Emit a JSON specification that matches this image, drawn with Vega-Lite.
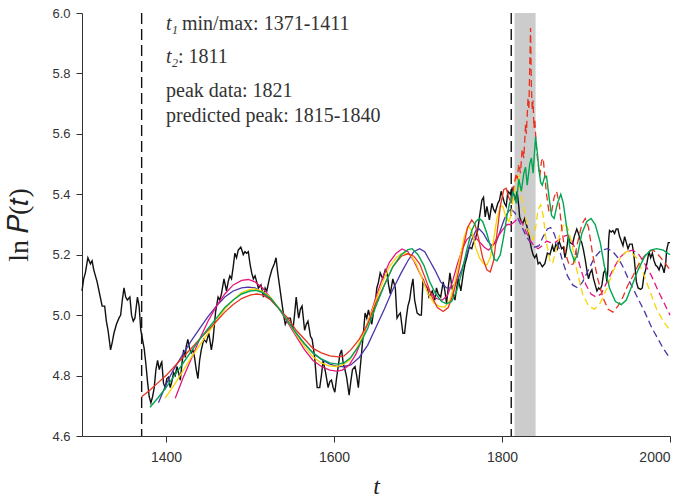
{
  "$schema": "https://vega.github.io/schema/vega-lite/v6.json",
  "width": 588,
  "height": 423,
  "autosize": {"type": "none"},
  "padding": {"left": 82, "top": 13, "right": 19, "bottom": 64},
  "background": "white",
  "config": {
    "view": {"stroke": null},
    "axis": {
      "domainColor": "#333", "tickColor": "#333", "labelColor": "#333",
      "labelFont": "Liberation Sans", "labelFontSize": 13, "tickSize": 6, "grid": false,
      "titleFont": "Liberation Serif", "titleFontWeight": "normal", "titleColor": "#222", "titleFontSize": 24
    }
  },
  "datasets": {
    "band": [{"t": 1815, "t2": 1840}],
    "vlines": [{"t": 1371}, {"t": 1811}],
    "obs": [
      {"t":1300,"v":5.08},{"t":1302,"v":5.12},{"t":1304,"v":5.14},{"t":1307,"v":5.19},{"t":1310,"v":5.17},{"t":1312,"v":5.18},{"t":1314,"v":5.15},{"t":1316,"v":5.13},{"t":1318,"v":5.11},{"t":1321,"v":5.07},{"t":1324,"v":5.03},{"t":1327,"v":5.03},{"t":1329,"v":4.98},{"t":1331,"v":4.95},{"t":1334,"v":4.885},{"t":1336,"v":4.91},{"t":1338,"v":4.94},{"t":1341,"v":4.97},{"t":1344,"v":4.99},{"t":1346,"v":5.0},{"t":1348,"v":5.05},{"t":1350,"v":5.09},{"t":1352,"v":5.06},{"t":1354,"v":5.05},{"t":1357,"v":5.06},{"t":1359,"v":5.0},{"t":1361,"v":4.98},{"t":1363,"v":4.99},{"t":1366,"v":5.06},{"t":1368,"v":5.03},{"t":1370,"v":4.95},{"t":1372,"v":4.92},{"t":1374,"v":4.89},{"t":1376,"v":4.84},{"t":1378,"v":4.78},{"t":1380,"v":4.73},{"t":1382,"v":4.71},{"t":1384,"v":4.73},{"t":1386,"v":4.76},{"t":1388,"v":4.82},{"t":1390,"v":4.85},{"t":1392,"v":4.82},{"t":1394,"v":4.84},{"t":1395,"v":4.845},{"t":1397,"v":4.775},{"t":1399,"v":4.76},{"t":1401,"v":4.79},{"t":1403,"v":4.795},{"t":1405,"v":4.76},{"t":1407,"v":4.78},{"t":1409,"v":4.81},{"t":1411,"v":4.8},{"t":1413,"v":4.83},{"t":1415,"v":4.81},{"t":1417,"v":4.785},{"t":1419,"v":4.84},{"t":1421,"v":4.885},{"t":1423,"v":4.86},{"t":1424,"v":4.895},{"t":1426,"v":4.92},{"t":1428,"v":4.89},{"t":1430,"v":4.875},{"t":1432,"v":4.885},{"t":1434,"v":4.86},{"t":1436,"v":4.82},{"t":1438,"v":4.79},{"t":1440,"v":4.85},{"t":1442,"v":4.885},{"t":1445,"v":4.92},{"t":1448,"v":4.91},{"t":1451,"v":4.94},{"t":1454,"v":4.885},{"t":1456,"v":4.92},{"t":1459,"v":5.01},{"t":1462,"v":5.06},{"t":1464,"v":5.05},{"t":1466,"v":5.07},{"t":1469,"v":5.12},{"t":1472,"v":5.08},{"t":1474,"v":5.11},{"t":1476,"v":5.13},{"t":1478,"v":5.12},{"t":1480,"v":5.16},{"t":1482,"v":5.205},{"t":1484,"v":5.19},{"t":1486,"v":5.215},{"t":1489,"v":5.225},{"t":1491,"v":5.21},{"t":1492,"v":5.2},{"t":1494,"v":5.21},{"t":1496,"v":5.205},{"t":1498,"v":5.21},{"t":1500,"v":5.17},{"t":1502,"v":5.14},{"t":1504,"v":5.12},{"t":1506,"v":5.13},{"t":1508,"v":5.11},{"t":1510,"v":5.09},{"t":1513,"v":5.1},{"t":1516,"v":5.06},{"t":1518,"v":5.09},{"t":1520,"v":5.08},{"t":1523,"v":5.12},{"t":1526,"v":5.15},{"t":1529,"v":5.17},{"t":1531,"v":5.19},{"t":1533,"v":5.14},{"t":1535,"v":5.1},{"t":1538,"v":5.04},{"t":1540,"v":5.0},{"t":1542,"v":4.97},{"t":1545,"v":4.99},{"t":1548,"v":4.99},{"t":1551,"v":4.95},{"t":1553,"v":5.0},{"t":1555,"v":5.06},{"t":1557,"v":5.01},{"t":1558,"v":4.99},{"t":1560,"v":5.02},{"t":1562,"v":5.03},{"t":1565,"v":4.95},{"t":1567,"v":4.97},{"t":1569,"v":4.98},{"t":1572,"v":4.93},{"t":1574,"v":4.92},{"t":1577,"v":4.86},{"t":1579,"v":4.79},{"t":1580,"v":4.76},{"t":1583,"v":4.76},{"t":1585,"v":4.8},{"t":1587,"v":4.85},{"t":1590,"v":4.81},{"t":1593,"v":4.76},{"t":1595,"v":4.78},{"t":1597,"v":4.785},{"t":1599,"v":4.76},{"t":1601,"v":4.745},{"t":1603,"v":4.79},{"t":1605,"v":4.83},{"t":1607,"v":4.87},{"t":1609,"v":4.885},{"t":1611,"v":4.84},{"t":1613,"v":4.82},{"t":1615,"v":4.795},{"t":1618,"v":4.735},{"t":1620,"v":4.78},{"t":1622,"v":4.82},{"t":1625,"v":4.83},{"t":1627,"v":4.8},{"t":1629,"v":4.76},{"t":1632,"v":4.85},{"t":1635,"v":4.94},{"t":1637,"v":5.007},{"t":1639,"v":4.99},{"t":1641,"v":5.017},{"t":1643,"v":4.99},{"t":1645,"v":4.97},{"t":1647,"v":5.01},{"t":1649,"v":5.04},{"t":1651,"v":5.09},{"t":1653,"v":5.11},{"t":1655,"v":5.14},{"t":1658,"v":5.12},{"t":1661,"v":5.15},{"t":1663,"v":5.14},{"t":1665,"v":5.1},{"t":1667,"v":5.07},{"t":1670,"v":5.12},{"t":1673,"v":5.09},{"t":1675,"v":4.99},{"t":1677,"v":5.0},{"t":1679,"v":5.007},{"t":1682,"v":4.94},{"t":1684,"v":4.94},{"t":1686,"v":4.99},{"t":1688,"v":5.03},{"t":1690,"v":5.05},{"t":1692,"v":5.09},{"t":1694,"v":5.12},{"t":1696,"v":5.05},{"t":1699,"v":5.007},{"t":1702,"v":5.0},{"t":1704,"v":5.0},{"t":1706,"v":5.12},{"t":1708,"v":5.1},{"t":1711,"v":5.09},{"t":1713,"v":5.06},{"t":1715,"v":5.07},{"t":1717,"v":5.08},{"t":1720,"v":5.05},{"t":1722,"v":5.09},{"t":1724,"v":5.07},{"t":1727,"v":5.06},{"t":1730,"v":5.11},{"t":1732,"v":5.08},{"t":1734,"v":5.04},{"t":1736,"v":5.09},{"t":1738,"v":5.14},{"t":1740,"v":5.1},{"t":1742,"v":5.07},{"t":1744,"v":5.05},{"t":1746,"v":5.09},{"t":1748,"v":5.12},{"t":1751,"v":5.08},{"t":1754,"v":5.14},{"t":1756,"v":5.17},{"t":1758,"v":5.19},{"t":1761,"v":5.225},{"t":1764,"v":5.22},{"t":1766,"v":5.24},{"t":1768,"v":5.25},{"t":1771,"v":5.28},{"t":1773,"v":5.32},{"t":1776,"v":5.38},{"t":1778,"v":5.39},{"t":1780,"v":5.325},{"t":1782,"v":5.36},{"t":1785,"v":5.315},{"t":1788,"v":5.37},{"t":1790,"v":5.35},{"t":1792,"v":5.34},{"t":1795,"v":5.37},{"t":1797,"v":5.38},{"t":1799,"v":5.41},{"t":1801,"v":5.39},{"t":1803,"v":5.37},{"t":1805,"v":5.36},{"t":1807,"v":5.41},{"t":1810,"v":5.4},{"t":1812,"v":5.42},{"t":1814,"v":5.4},{"t":1816,"v":5.38},{"t":1818,"v":5.41},{"t":1820,"v":5.36},{"t":1821,"v":5.325},{"t":1823,"v":5.31},{"t":1825,"v":5.305},{"t":1827,"v":5.32},{"t":1830,"v":5.29},{"t":1832,"v":5.27},{"t":1833,"v":5.25},{"t":1835,"v":5.22},
      {"t":1837,"v":5.2},{"t":1839,"v":5.19},{"t":1841,"v":5.2},{"t":1843,"v":5.17},{"t":1845,"v":5.175},{"t":1848,"v":5.16},{"t":1851,"v":5.17},{"t":1854,"v":5.205},{"t":1857,"v":5.2},{"t":1860,"v":5.23},{"t":1862,"v":5.21},{"t":1864,"v":5.235},{"t":1866,"v":5.22},{"t":1868,"v":5.245},{"t":1871,"v":5.22},{"t":1873,"v":5.225},{"t":1875,"v":5.19},{"t":1877,"v":5.22},{"t":1879,"v":5.26},{"t":1881,"v":5.24},{"t":1884,"v":5.235},{"t":1886,"v":5.26},{"t":1889,"v":5.285},{"t":1891,"v":5.27},{"t":1893,"v":5.25},{"t":1895,"v":5.24},{"t":1897,"v":5.215},{"t":1899,"v":5.185},{"t":1901,"v":5.15},{"t":1903,"v":5.12},{"t":1905,"v":5.14},{"t":1907,"v":5.15},{"t":1909,"v":5.12},{"t":1911,"v":5.1},{"t":1913,"v":5.08},{"t":1915,"v":5.09},{"t":1917,"v":5.085},{"t":1919,"v":5.1},{"t":1921,"v":5.14},{"t":1923,"v":5.15},{"t":1925,"v":5.11},{"t":1926,"v":5.15},{"t":1927,"v":5.25},{"t":1928,"v":5.28},{"t":1930,"v":5.275},{"t":1932,"v":5.28},{"t":1934,"v":5.27},{"t":1936,"v":5.285},{"t":1938,"v":5.285},{"t":1940,"v":5.26},{"t":1942,"v":5.245},{"t":1944,"v":5.23},{"t":1946,"v":5.26},{"t":1948,"v":5.24},{"t":1950,"v":5.22},{"t":1952,"v":5.235},{"t":1955,"v":5.235},{"t":1957,"v":5.2},{"t":1958,"v":5.17},{"t":1960,"v":5.11},{"t":1962,"v":5.09},{"t":1965,"v":5.085},{"t":1967,"v":5.09},{"t":1969,"v":5.13},{"t":1971,"v":5.15},{"t":1973,"v":5.18},{"t":1975,"v":5.21},{"t":1977,"v":5.19},{"t":1979,"v":5.205},{"t":1981,"v":5.18},{"t":1983,"v":5.165},{"t":1985,"v":5.16},{"t":1987,"v":5.15},{"t":1989,"v":5.17},{"t":1991,"v":5.16},{"t":1993,"v":5.14},{"t":1995,"v":5.175},{"t":1996,"v":5.215},{"t":1998,"v":5.24},{"t":2000,"v":5.24}
    ],
    "redS": [{"t":1371,"v":4.73},{"t":1380,"v":4.75},{"t":1390,"v":4.775},{"t":1400,"v":4.8},{"t":1410,"v":4.83},{"t":1420,"v":4.86},{"t":1430,"v":4.89},{"t":1440,"v":4.92},{"t":1450,"v":4.95},{"t":1460,"v":4.98},{"t":1470,"v":5.01},{"t":1480,"v":5.035},{"t":1490,"v":5.055},{"t":1500,"v":5.066},{"t":1508,"v":5.07},{"t":1515,"v":5.067},{"t":1525,"v":5.05},{"t":1535,"v":5.02},{"t":1545,"v":4.99},{"t":1555,"v":4.95},{"t":1565,"v":4.92},{"t":1575,"v":4.89},{"t":1585,"v":4.875},{"t":1595,"v":4.865},{"t":1605,"v":4.862},{"t":1612,"v":4.865},{"t":1620,"v":4.885},{"t":1630,"v":4.92},{"t":1640,"v":4.97},{"t":1650,"v":5.04},{"t":1660,"v":5.1},{"t":1670,"v":5.16},{"t":1680,"v":5.195},{"t":1688,"v":5.203},{"t":1695,"v":5.195},{"t":1702,"v":5.17},{"t":1709,"v":5.12},{"t":1716,"v":5.065},{"t":1723,"v":5.025},{"t":1730,"v":5.012},{"t":1736,"v":5.025},{"t":1742,"v":5.07},{"t":1748,"v":5.14},{"t":1754,"v":5.225},{"t":1759,"v":5.29},{"t":1764,"v":5.315},{"t":1768,"v":5.3},{"t":1772,"v":5.255},{"t":1777,"v":5.19},{"t":1782,"v":5.15},{"t":1786,"v":5.143},{"t":1790,"v":5.18},{"t":1794,"v":5.27},{"t":1798,"v":5.36},{"t":1802,"v":5.415},{"t":1805,"v":5.42},{"t":1808,"v":5.39},{"t":1811,"v":5.37}],
    "redD": [{"t":1811,"v":5.37},{"t":1813,"v":5.41},{"t":1815,"v":5.44},{"t":1817,"v":5.47},{"t":1818,"v":5.45},{"t":1820,"v":5.5},{"t":1822,"v":5.47},{"t":1824,"v":5.55},{"t":1826,"v":5.52},{"t":1828,"v":5.63},{"t":1829,"v":5.6},{"t":1831,"v":5.72},{"t":1832,"v":5.68},{"t":1833,"v":5.82},{"t":1834,"v":5.95},{"t":1835,"v":5.75},{"t":1836,"v":5.68},{"t":1837,"v":5.71},{"t":1838,"v":5.62},{"t":1839,"v":5.65},{"t":1841,"v":5.55},{"t":1843,"v":5.5},{"t":1845,"v":5.46},{"t":1847,"v":5.51},{"t":1849,"v":5.52},{"t":1851,"v":5.46},{"t":1853,"v":5.4},{"t":1856,"v":5.34},{"t":1859,"v":5.34},{"t":1862,"v":5.39},{"t":1865,"v":5.41},{"t":1868,"v":5.37},{"t":1871,"v":5.29},{"t":1875,"v":5.21},{"t":1880,"v":5.165},{"t":1885,"v":5.17},{"t":1890,"v":5.24},{"t":1895,"v":5.3},{"t":1899,"v":5.32},{"t":1903,"v":5.29},{"t":1908,"v":5.2},{"t":1914,"v":5.12},{"t":1920,"v":5.06},{"t":1926,"v":5.02},{"t":1932,"v":5.01},{"t":1938,"v":5.03},{"t":1944,"v":5.06},{"t":1950,"v":5.1},{"t":1956,"v":5.13},{"t":1962,"v":5.165},{"t":1968,"v":5.19},{"t":1974,"v":5.21},{"t":1980,"v":5.215},{"t":1986,"v":5.2},{"t":1992,"v":5.18},{"t":2000,"v":5.15}],
    "green": [{"t":1381,"v":4.695},{"t":1390,"v":4.725},{"t":1400,"v":4.76},{"t":1410,"v":4.8},{"t":1420,"v":4.84},{"t":1430,"v":4.88},{"t":1440,"v":4.92},{"t":1450,"v":4.955},{"t":1460,"v":4.99},{"t":1470,"v":5.025},{"t":1480,"v":5.05},{"t":1490,"v":5.07},{"t":1500,"v":5.08},{"t":1507,"v":5.082},{"t":1515,"v":5.075},{"t":1525,"v":5.055},{"t":1535,"v":5.02},{"t":1545,"v":4.98},{"t":1555,"v":4.94},{"t":1565,"v":4.905},{"t":1575,"v":4.875},{"t":1585,"v":4.855},{"t":1595,"v":4.842},{"t":1605,"v":4.838},{"t":1612,"v":4.842},{"t":1620,"v":4.86},{"t":1630,"v":4.9},{"t":1640,"v":4.955},{"t":1650,"v":5.03},{"t":1660,"v":5.1},{"t":1670,"v":5.16},{"t":1680,"v":5.2},{"t":1688,"v":5.217},{"t":1693,"v":5.22},{"t":1700,"v":5.2},{"t":1707,"v":5.165},{"t":1714,"v":5.11},{"t":1721,"v":5.07},{"t":1728,"v":5.045},{"t":1734,"v":5.038},{"t":1740,"v":5.045},{"t":1746,"v":5.08},{"t":1752,"v":5.14},{"t":1758,"v":5.215},{"t":1764,"v":5.28},{"t":1769,"v":5.31},{"t":1773,"v":5.32},{"t":1777,"v":5.31},{"t":1782,"v":5.27},{"t":1787,"v":5.22},{"t":1791,"v":5.185},{"t":1794,"v":5.18},{"t":1798,"v":5.2},{"t":1802,"v":5.26},{"t":1806,"v":5.33},{"t":1809,"v":5.37},{"t":1811,"v":5.38},{"t":1813,"v":5.41},{"t":1815,"v":5.39},{"t":1817,"v":5.37},{"t":1820,"v":5.45},{"t":1823,"v":5.41},{"t":1826,"v":5.47},{"t":1828,"v":5.49},{"t":1830,"v":5.43},{"t":1833,"v":5.5},{"t":1835,"v":5.52},{"t":1837,"v":5.47},{"t":1840,"v":5.59},{"t":1842,"v":5.54},{"t":1844,"v":5.48},{"t":1846,"v":5.44},{"t":1848,"v":5.43},{"t":1851,"v":5.46},{"t":1853,"v":5.46},{"t":1856,"v":5.39},{"t":1859,"v":5.33},{"t":1862,"v":5.32},{"t":1866,"v":5.37},{"t":1870,"v":5.4},{"t":1873,"v":5.37},{"t":1877,"v":5.29},{"t":1881,"v":5.22},{"t":1886,"v":5.18},{"t":1890,"v":5.2},{"t":1895,"v":5.27},{"t":1901,"v":5.31},{"t":1906,"v":5.32},{"t":1911,"v":5.3},{"t":1917,"v":5.24},{"t":1922,"v":5.16},{"t":1928,"v":5.09},{"t":1935,"v":5.045},{"t":1942,"v":5.035},{"t":1948,"v":5.05},{"t":1955,"v":5.1},{"t":1962,"v":5.15},{"t":1970,"v":5.195},{"t":1977,"v":5.215},{"t":1984,"v":5.22},{"t":1992,"v":5.215},{"t":2000,"v":5.2}],
    "yellowS": [{"t":1399,"v":4.725},{"t":1410,"v":4.77},{"t":1420,"v":4.815},{"t":1430,"v":4.86},{"t":1440,"v":4.9},{"t":1450,"v":4.94},{"t":1460,"v":4.98},{"t":1470,"v":5.02},{"t":1480,"v":5.05},{"t":1490,"v":5.075},{"t":1500,"v":5.085},{"t":1506,"v":5.087},{"t":1514,"v":5.08},{"t":1524,"v":5.06},{"t":1534,"v":5.025},{"t":1544,"v":4.985},{"t":1554,"v":4.94},{"t":1564,"v":4.9},{"t":1574,"v":4.865},{"t":1584,"v":4.843},{"t":1594,"v":4.832},{"t":1603,"v":4.83},{"t":1610,"v":4.835},{"t":1618,"v":4.85},{"t":1626,"v":4.885},{"t":1634,"v":4.93},{"t":1642,"v":4.99},{"t":1650,"v":5.05},{"t":1658,"v":5.11},{"t":1666,"v":5.16},{"t":1674,"v":5.19},{"t":1680,"v":5.203},{"t":1685,"v":5.206},{"t":1691,"v":5.2},{"t":1698,"v":5.17},{"t":1705,"v":5.12},{"t":1712,"v":5.07},{"t":1719,"v":5.04},{"t":1726,"v":5.028},{"t":1732,"v":5.027},{"t":1738,"v":5.05},{"t":1744,"v":5.11},{"t":1750,"v":5.19},{"t":1755,"v":5.26},{"t":1760,"v":5.295},{"t":1764,"v":5.28},{"t":1768,"v":5.23},{"t":1773,"v":5.19},{"t":1778,"v":5.17},{"t":1782,"v":5.166},{"t":1786,"v":5.19},{"t":1790,"v":5.25},{"t":1794,"v":5.32},{"t":1798,"v":5.36},{"t":1801,"v":5.36},{"t":1804,"v":5.33},{"t":1808,"v":5.31},{"t":1811,"v":5.33}],
    "yellowD": [{"t":1811,"v":5.33},{"t":1814,"v":5.4},{"t":1817,"v":5.46},{"t":1819,"v":5.47},{"t":1821,"v":5.43},{"t":1824,"v":5.38},{"t":1827,"v":5.34},{"t":1830,"v":5.29},{"t":1834,"v":5.26},{"t":1837,"v":5.25},{"t":1840,"v":5.29},{"t":1843,"v":5.35},{"t":1846,"v":5.365},{"t":1849,"v":5.33},{"t":1853,"v":5.24},{"t":1857,"v":5.18},{"t":1860,"v":5.17},{"t":1864,"v":5.21},{"t":1869,"v":5.27},{"t":1874,"v":5.305},{"t":1878,"v":5.29},{"t":1883,"v":5.24},{"t":1889,"v":5.15},{"t":1896,"v":5.07},{"t":1903,"v":5.03},{"t":1910,"v":5.02},{"t":1917,"v":5.04},{"t":1925,"v":5.09},{"t":1933,"v":5.15},{"t":1941,"v":5.19},{"t":1948,"v":5.21},{"t":1953,"v":5.21},{"t":1960,"v":5.19},{"t":1968,"v":5.14},{"t":1976,"v":5.08},{"t":1984,"v":5.02},{"t":1992,"v":4.98},{"t":2000,"v":4.95}],
    "blueS": [{"t":1391,"v":4.71},{"t":1400,"v":4.77},{"t":1408,"v":4.815},{"t":1420,"v":4.87},{"t":1430,"v":4.915},{"t":1440,"v":4.955},{"t":1450,"v":4.995},{"t":1460,"v":5.03},{"t":1470,"v":5.06},{"t":1480,"v":5.08},{"t":1490,"v":5.09},{"t":1498,"v":5.093},{"t":1506,"v":5.09},{"t":1515,"v":5.075},{"t":1525,"v":5.05},{"t":1535,"v":5.02},{"t":1545,"v":4.98},{"t":1555,"v":4.94},{"t":1565,"v":4.905},{"t":1575,"v":4.875},{"t":1585,"v":4.853},{"t":1595,"v":4.838},{"t":1605,"v":4.83},{"t":1612,"v":4.83},{"t":1620,"v":4.835},{"t":1630,"v":4.86},{"t":1640,"v":4.9},{"t":1650,"v":4.96},{"t":1660,"v":5.02},{"t":1670,"v":5.085},{"t":1680,"v":5.14},{"t":1688,"v":5.18},{"t":1695,"v":5.21},{"t":1702,"v":5.22},{"t":1708,"v":5.21},{"t":1714,"v":5.18},{"t":1720,"v":5.15},{"t":1727,"v":5.11},{"t":1734,"v":5.09},{"t":1740,"v":5.09},{"t":1746,"v":5.11},{"t":1752,"v":5.15},{"t":1758,"v":5.2},{"t":1764,"v":5.25},{"t":1769,"v":5.28},{"t":1773,"v":5.285},{"t":1778,"v":5.27},{"t":1783,"v":5.245},{"t":1788,"v":5.23},{"t":1793,"v":5.24},{"t":1798,"v":5.28},{"t":1803,"v":5.32},{"t":1808,"v":5.345},{"t":1811,"v":5.35}],
    "blueD": [{"t":1811,"v":5.35},{"t":1815,"v":5.34},{"t":1819,"v":5.32},{"t":1824,"v":5.29},{"t":1829,"v":5.26},{"t":1834,"v":5.24},{"t":1839,"v":5.225},{"t":1844,"v":5.23},{"t":1849,"v":5.26},{"t":1854,"v":5.285},{"t":1858,"v":5.29},{"t":1862,"v":5.27},{"t":1867,"v":5.23},{"t":1872,"v":5.18},{"t":1878,"v":5.13},{"t":1884,"v":5.1},{"t":1890,"v":5.09},{"t":1896,"v":5.11},{"t":1903,"v":5.15},{"t":1910,"v":5.19},{"t":1918,"v":5.215},{"t":1926,"v":5.22},{"t":1932,"v":5.21},{"t":1938,"v":5.19},{"t":1944,"v":5.16},{"t":1952,"v":5.11},{"t":1961,"v":5.06},{"t":1970,"v":5.01},{"t":1978,"v":4.96},{"t":1986,"v":4.92},{"t":1992,"v":4.89},{"t":1998,"v":4.865}],
    "magS": [{"t":1411,"v":4.725},{"t":1420,"v":4.79},{"t":1430,"v":4.855},{"t":1440,"v":4.92},{"t":1450,"v":4.98},{"t":1460,"v":5.03},{"t":1470,"v":5.07},{"t":1480,"v":5.1},{"t":1490,"v":5.115},{"t":1498,"v":5.118},{"t":1506,"v":5.11},{"t":1515,"v":5.09},{"t":1525,"v":5.055},{"t":1535,"v":5.02},{"t":1545,"v":4.975},{"t":1555,"v":4.93},{"t":1565,"v":4.885},{"t":1575,"v":4.85},{"t":1585,"v":4.83},{"t":1595,"v":4.818},{"t":1603,"v":4.815},{"t":1610,"v":4.818},{"t":1618,"v":4.835},{"t":1626,"v":4.87},{"t":1634,"v":4.925},{"t":1642,"v":4.99},{"t":1650,"v":5.06},{"t":1658,"v":5.125},{"t":1666,"v":5.175},{"t":1674,"v":5.205},{"t":1681,"v":5.219},{"t":1688,"v":5.21},{"t":1695,"v":5.18},{"t":1702,"v":5.14},{"t":1709,"v":5.1},{"t":1716,"v":5.07},{"t":1722,"v":5.055},{"t":1729,"v":5.05},{"t":1735,"v":5.065},{"t":1741,"v":5.11},{"t":1747,"v":5.17},{"t":1753,"v":5.22},{"t":1758,"v":5.25},{"t":1764,"v":5.265},{"t":1769,"v":5.255},{"t":1774,"v":5.24},{"t":1779,"v":5.225},{"t":1784,"v":5.215},{"t":1789,"v":5.23},{"t":1794,"v":5.255},{"t":1800,"v":5.28},{"t":1806,"v":5.3},{"t":1811,"v":5.3}],
    "magD": [{"t":1811,"v":5.3},{"t":1815,"v":5.31},{"t":1819,"v":5.32},{"t":1823,"v":5.31},{"t":1828,"v":5.28},{"t":1833,"v":5.25},{"t":1838,"v":5.23},{"t":1843,"v":5.22},{"t":1848,"v":5.23},{"t":1853,"v":5.245},{"t":1858,"v":5.24},{"t":1863,"v":5.24},{"t":1868,"v":5.25},{"t":1873,"v":5.26},{"t":1878,"v":5.265},{"t":1883,"v":5.25},{"t":1888,"v":5.21},{"t":1894,"v":5.15},{"t":1900,"v":5.1},{"t":1906,"v":5.07},{"t":1912,"v":5.06},{"t":1918,"v":5.07},{"t":1925,"v":5.11},{"t":1932,"v":5.15},{"t":1940,"v":5.19},{"t":1948,"v":5.21},{"t":1956,"v":5.215},{"t":1963,"v":5.2},{"t":1970,"v":5.17},{"t":1978,"v":5.13},{"t":1986,"v":5.08},{"t":1993,"v":5.04},{"t":2000,"v":5.0}],
    "tItal": [{"t":1400,"v":5.9437,"txt":"t"},{"t":1400,"v":5.8345,"txt":"t"}],
    "tSub": [{"t":1400,"v":5.9437,"txt":"1"},{"t":1400,"v":5.8345,"txt":"2"}],
    "row1": [{"t":1400,"v":5.9437,"txt":"min/max: 1371-1411"}],
    "row2": [{"t":1400,"v":5.8345,"txt":": 1811"}],
    "rows34": [{"t":1400,"v":5.722,"txt":"peak data: 1821"},{"t":1400,"v":5.6392,"txt":"predicted peak: 1815-1840"}]
  },
  "layer": [
    {
      "data": {"name": "band"},
      "mark": {"type": "rect", "color": "#cccccc"},
      "encoding": {
        "x": {"field": "t", "type": "quantitative", "scale": {"domain": [1300, 2000], "nice": false, "zero": false}},
        "x2": {"field": "t2"}
      }
    },
    {
      "data": {"name": "vlines"},
      "mark": {"type": "rule", "color": "#111", "strokeWidth": 1.4, "strokeDash": [11, 5]},
      "encoding": {"x": {"field": "t", "type": "quantitative"}}
    },
    {
      "data": {"name": "obs"},
      "mark": {"type": "line", "color": "#111", "strokeWidth": 1.4},
      "encoding": {
        "x": {"field": "t", "type": "quantitative", "scale": {"domain": [1300, 2000], "nice": false, "zero": false},
              "axis": {"values": [1400, 1600, 1800, 2000], "format": "d", "labelFontSize": 14, "labelPadding": 8, "title": "t", "titleFontStyle": "italic", "titlePadding": 10}},
        "y": {"field": "v", "type": "quantitative", "scale": {"domain": [4.6, 6.0], "nice": false, "zero": false},
              "axis": {"values": [4.6, 4.8, 5.0, 5.2, 5.4, 5.6, 5.8, 6.0], "format": ".1f", "labelPadding": 6, "title": "ln 𝑃(𝑡)", "titleFontSize": 28, "titlePadding": 18}}
      }
    },
    {
      "data": {"name": "blueS"},
      "mark": {"type": "line", "color": "#4a36a8", "strokeWidth": 1.3},
      "encoding": {"x": {"field": "t", "type": "quantitative"}, "y": {"field": "v", "type": "quantitative"}}
    },
    {
      "data": {"name": "blueD"},
      "mark": {"type": "line", "color": "#4a36a8", "strokeWidth": 1.3, "strokeDash": [7, 4]},
      "encoding": {"x": {"field": "t", "type": "quantitative"}, "y": {"field": "v", "type": "quantitative"}}
    },
    {
      "data": {"name": "magS"},
      "mark": {"type": "line", "color": "#e6157f", "strokeWidth": 1.3},
      "encoding": {"x": {"field": "t", "type": "quantitative"}, "y": {"field": "v", "type": "quantitative"}}
    },
    {
      "data": {"name": "magD"},
      "mark": {"type": "line", "color": "#e6157f", "strokeWidth": 1.3, "strokeDash": [7, 4]},
      "encoding": {"x": {"field": "t", "type": "quantitative"}, "y": {"field": "v", "type": "quantitative"}}
    },
    {
      "data": {"name": "yellowS"},
      "mark": {"type": "line", "color": "#fad500", "strokeWidth": 1.3},
      "encoding": {"x": {"field": "t", "type": "quantitative"}, "y": {"field": "v", "type": "quantitative"}}
    },
    {
      "data": {"name": "yellowD"},
      "mark": {"type": "line", "color": "#fad500", "strokeWidth": 1.3, "strokeDash": [7, 4]},
      "encoding": {"x": {"field": "t", "type": "quantitative"}, "y": {"field": "v", "type": "quantitative"}}
    },
    {
      "data": {"name": "redS"},
      "mark": {"type": "line", "color": "#e8331f", "strokeWidth": 1.3},
      "encoding": {"x": {"field": "t", "type": "quantitative"}, "y": {"field": "v", "type": "quantitative"}}
    },
    {
      "data": {"name": "redD"},
      "mark": {"type": "line", "color": "#e8331f", "strokeWidth": 1.3, "strokeDash": [7, 4]},
      "encoding": {"x": {"field": "t", "type": "quantitative"}, "y": {"field": "v", "type": "quantitative"}}
    },
    {
      "data": {"name": "green"},
      "mark": {"type": "line", "color": "#00a651", "strokeWidth": 1.4},
      "encoding": {"x": {"field": "t", "type": "quantitative"}, "y": {"field": "v", "type": "quantitative"}}
    },
    {
      "data": {"name": "tItal"},
      "mark": {"type": "text", "align": "left", "baseline": "alphabetic", "font": "Liberation Serif", "fontStyle": "italic", "fontSize": 20, "color": "#333"},
      "encoding": {"x": {"field": "t", "type": "quantitative"}, "y": {"field": "v", "type": "quantitative"}, "text": {"field": "txt"}}
    },
    {
      "data": {"name": "tSub"},
      "mark": {"type": "text", "align": "left", "baseline": "alphabetic", "font": "Liberation Serif", "fontStyle": "italic", "fontSize": 12, "color": "#333", "dx": 6, "dy": 4},
      "encoding": {"x": {"field": "t", "type": "quantitative"}, "y": {"field": "v", "type": "quantitative"}, "text": {"field": "txt"}}
    },
    {
      "data": {"name": "row1"},
      "mark": {"type": "text", "align": "left", "baseline": "alphabetic", "font": "Liberation Serif", "fontSize": 20, "color": "#333", "dx": 16},
      "encoding": {"x": {"field": "t", "type": "quantitative"}, "y": {"field": "v", "type": "quantitative"}, "text": {"field": "txt"}}
    },
    {
      "data": {"name": "row2"},
      "mark": {"type": "text", "align": "left", "baseline": "alphabetic", "font": "Liberation Serif", "fontSize": 20, "color": "#333", "dx": 12},
      "encoding": {"x": {"field": "t", "type": "quantitative"}, "y": {"field": "v", "type": "quantitative"}, "text": {"field": "txt"}}
    },
    {
      "data": {"name": "rows34"},
      "mark": {"type": "text", "align": "left", "baseline": "alphabetic", "font": "Liberation Serif", "fontSize": 20, "color": "#333"},
      "encoding": {"x": {"field": "t", "type": "quantitative"}, "y": {"field": "v", "type": "quantitative"}, "text": {"field": "txt"}}
    }
  ]
}
